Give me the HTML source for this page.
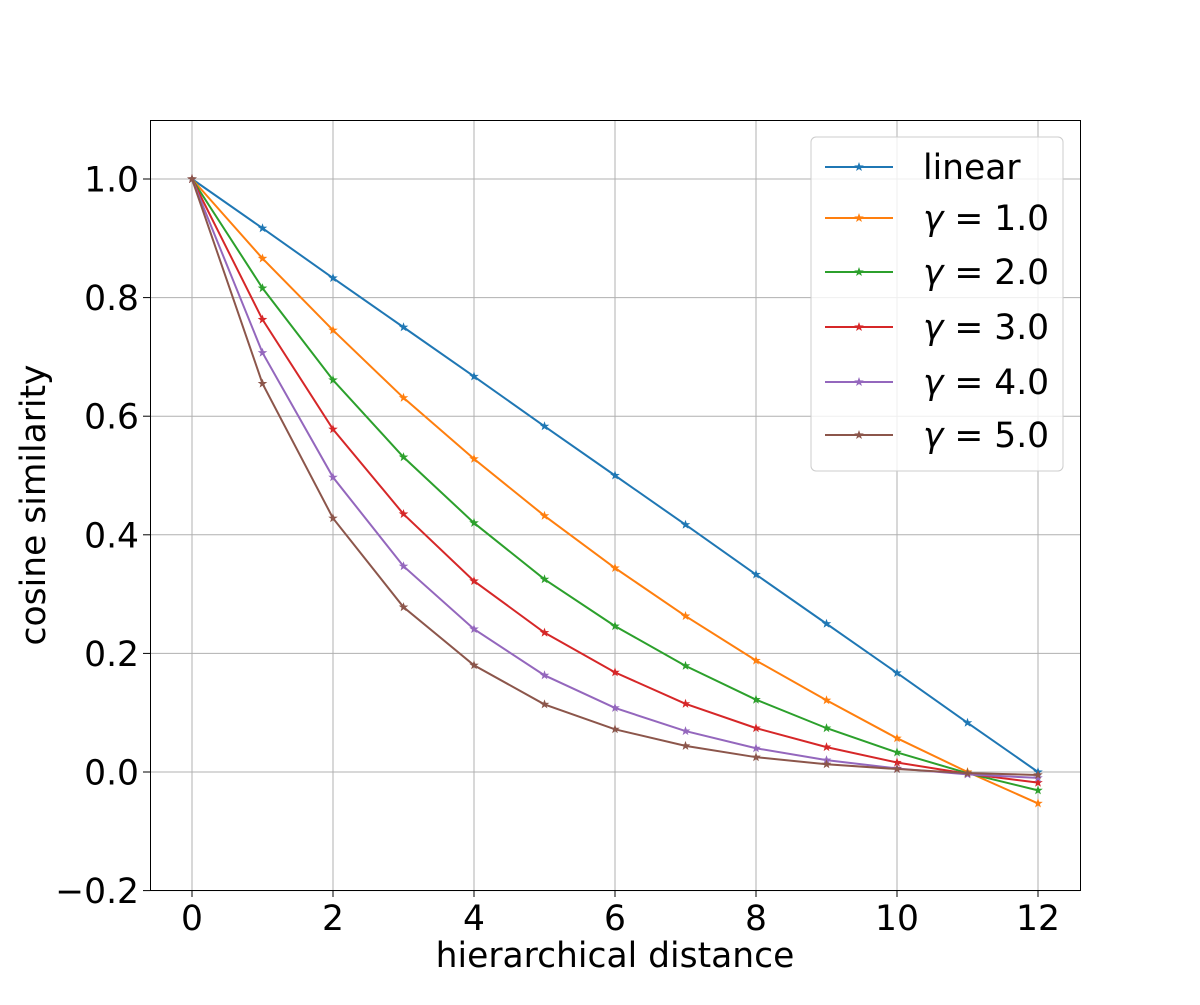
<!DOCTYPE html>
<html><head><meta charset="utf-8"><style>
body{margin:0;background:#fff}
svg text{font-family:"DejaVu Sans","Liberation Sans",sans-serif;fill:#000}
</style></head><body>
<svg id="chart" width="1200" height="1000">
<g id="grid"></g>
<g id="series"></g>
<rect x="150.5" y="120.5" width="930" height="770" fill="none" stroke="#000" stroke-width="1"/>
<g id="ticks"></g>
<text x="615" y="967" font-size="34.5" text-anchor="middle">hierarchical distance</text>
<text transform="translate(45,505) rotate(-90)" font-size="34.5" text-anchor="middle">cosine similarity</text>
<g id="legend"></g>
</svg>
<script>
const distances=[0,1,2,3,4,5,6,7,8,9,10,11,12];
const seriesNames=["linear","1.0","2.0","3.0","4.0","5.0"];
const linearVals=[1,0.917,0.833,0.75,0.667,0.583,0.5,0.417,0.333,0.25,0.167,0.083,0.0];
const gamma1Vals=[1,0.866,0.745,0.631,0.528,0.432,0.344,0.263,0.188,0.121,0.057,0.0,-0.053];
const gamma2Vals=[1,0.816,0.661,0.531,0.420,0.325,0.246,0.179,0.122,0.074,0.033,-0.002,-0.031];
const gamma3Vals=[1,0.763,0.578,0.435,0.322,0.235,0.168,0.115,0.074,0.042,0.016,-0.003,-0.018];
const gamma4Vals=[1,0.707,0.497,0.347,0.241,0.163,0.108,0.069,0.040,0.020,0.006,-0.004,-0.010];
const gamma5Vals=[1,0.655,0.428,0.278,0.180,0.114,0.072,0.044,0.025,0.013,0.005,-0.002,-0.005];
const xTicks=[0,2,4,6,8,10,12];
const yTicks=[-0.2,0,0.2,0.4,0.6,0.8,1.0];
const yTickLabels=["−0.2","0.0","0.2","0.4","0.6","0.8","1.0"];
const colors=["#1f77b4","#ff7f0e","#2ca02c","#d62728","#9467bd","#8c564b"];
const allVals=[linearVals,gamma1Vals,gamma2Vals,gamma3Vals,gamma4Vals,gamma5Vals];
const NS="http://www.w3.org/2000/svg";
const X=v=>192+v*70.5, Y=v=>772-v*593;
function mk(t,a,p){const e=document.createElementNS(NS,t);for(const k in a)e.setAttribute(k,a[k]);p.appendChild(e);return e;}
const grid=document.getElementById('grid'),ticks=document.getElementById('ticks');
xTicks.forEach(t=>{
 const g=mk('line',{x1:X(t),x2:X(t),y1:120,y2:890,stroke:'#b0b0b0','stroke-width':1},grid);
 
 
 mk('line',{x1:X(t),x2:X(t),y1:890,y2:897,stroke:'#000'},ticks);
 const l=mk('text',{x:X(t),y:930,'font-size':34.5,'text-anchor':'middle'},ticks);l.textContent=t;
 
 
});
yTicks.forEach((t,i)=>{
 const g=mk('line',{x1:150,x2:1080,y1:Y(t),y2:Y(t),stroke:'#b0b0b0','stroke-width':1},grid);
 
 
 mk('line',{x1:143,x2:150,y1:Y(t),y2:Y(t),stroke:'#000'},ticks);
 const l=mk('text',{x:139,y:Y(t)+12.5,'font-size':34.5,'text-anchor':'end'},ticks);l.textContent=yTickLabels[i];
 
 
});
function star(cx,cy,r){let p=[];for(let i=0;i<10;i++){const a=-Math.PI/2+i*Math.PI/5,rr=i%2?r*0.4:r;p.push((cx+rr*Math.cos(a)).toFixed(1)+','+(cy+rr*Math.sin(a)).toFixed(1));}return p.join(' ');}
const sg=document.getElementById('series');
allVals.forEach((vals,si)=>{
 const g=mk('g',{},sg);
 
 
 mk('polyline',{points:vals.map((v,i)=>X(distances[i])+','+Y(v)).join(' '),fill:'none',stroke:colors[si],'stroke-width':2},g);
 vals.forEach((v,i)=>{const s=mk('polygon',{points:star(X(distances[i]),Y(v),5),fill:colors[si]},g);
  
  });
});
const lg=document.getElementById('legend');
mk('rect',{x:811,y:137,width:252,height:334,rx:5,fill:'#fff','fill-opacity':0.8,stroke:'#ccc'},lg);
const rowY=[167,218,272,327,382,435];
seriesNames.forEach((n,i)=>{
 const e=mk('g',{},lg);
 
 
 mk('line',{x1:825,x2:893,y1:rowY[i],y2:rowY[i],stroke:colors[i],'stroke-width':2},e);
 mk('polygon',{points:star(859,rowY[i],5),fill:colors[i]},e);
 const t=mk('text',{x:923,y:rowY[i]+12,'font-size':34.5},e);
 if(i===0){t.textContent=n;}
 else{const g1=mk('tspan',{'font-style':'italic'},t);g1.textContent='γ';
  const g2=mk('tspan',{},t);g2.textContent=' = '+n;}
});
</script>
</body></html>
